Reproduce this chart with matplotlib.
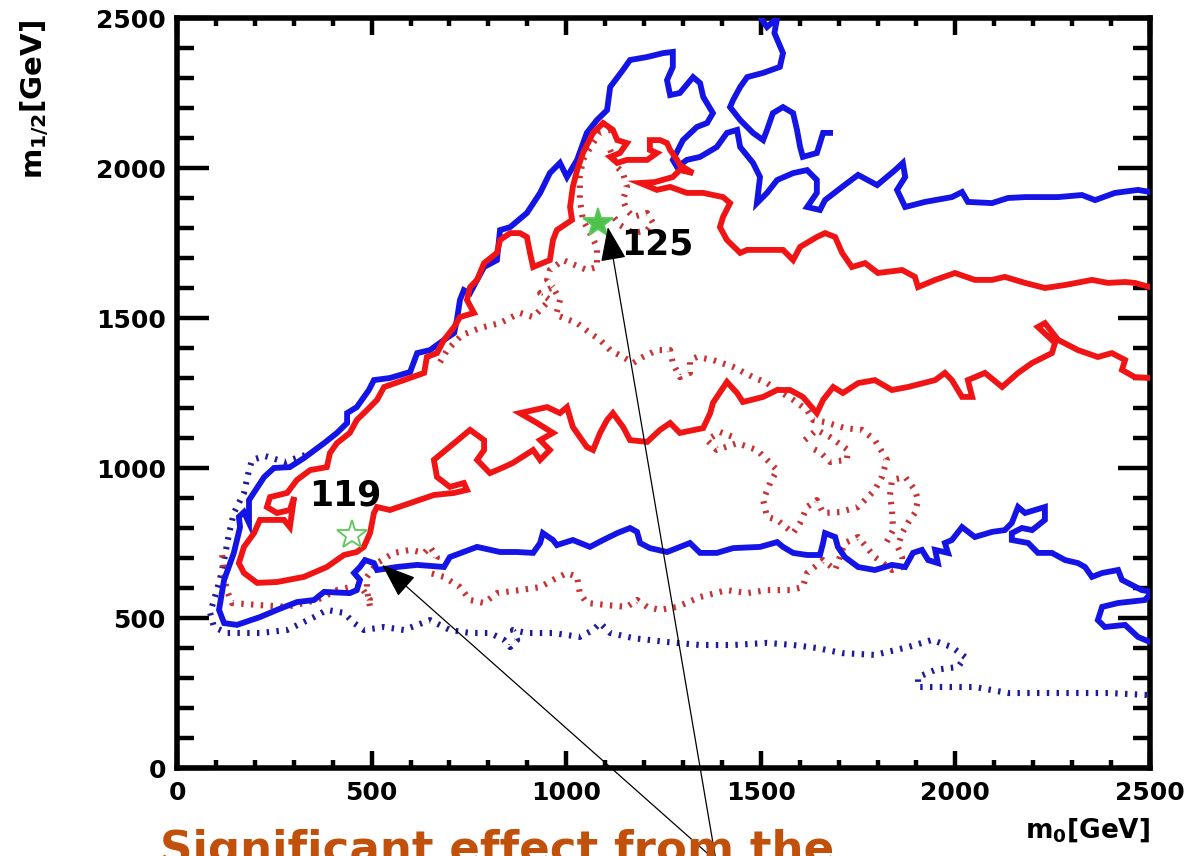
import matplotlib
matplotlib.use('Agg')
import matplotlib.pyplot as plt

# contour lines in the (m0, m1/2) plane, GeV
blue_solid = [
    (2500, 1920), (2469, 1927), (2410, 1917), (2359, 1893), (2325, 1910), (2264, 1903), (2179, 1903),
    (2135, 1900), (2094, 1883), (2032, 1887), (2017, 1920), (1991, 1903), (1922, 1887), (1871, 1870),
    (1850, 1927), (1871, 1970), (1865, 2017), (1845, 1993), (1799, 1943), (1750, 1977), (1709, 1937),
    (1665, 1893), (1652, 1860), (1619, 1870), (1644, 1917), (1644, 1960), (1619, 1993), (1583, 1983),
    (1542, 1960), (1516, 1917), (1490, 1883), (1498, 1970), (1480, 2017), (1447, 2070), (1439, 2127),
    (1413, 2117), (1387, 2070), (1344, 2037), (1310, 2027), (1285, 2003), (1274, 2027), (1300, 2093),
    (1336, 2137), (1362, 2150), (1377, 2183), (1352, 2237), (1344, 2283), (1326, 2303), (1292, 2250),
    (1267, 2243), (1259, 2293), (1274, 2337), (1274, 2387), (1249, 2383), (1208, 2370), (1164, 2360),
    (1146, 2327), (1113, 2270), (1105, 2193), (1079, 2160), (1053, 2117), (1028, 2027), (1002, 1970),
    (984, 2017), (958, 1983), (933, 1917), (899, 1850), (856, 1803), (830, 1793), (822, 1693),
    (789, 1670), (771, 1627), (753, 1583), (737, 1593), (727, 1560), (719, 1493), (712, 1450),
    (686, 1427), (650, 1393), (617, 1383), (599, 1320), (547, 1300), (506, 1293), (493, 1260),
    (462, 1203), (437, 1183), (437, 1150), (411, 1117), (378, 1083), (326, 1033), (290, 1003),
    (249, 1000), (224, 970), (185, 893), (185, 817), (172, 853), (159, 837), (162, 803), (146, 717),
    (121, 627), (108, 527), (121, 483), (154, 477), (213, 503), (257, 527), (308, 553), (352, 560),
    (378, 587), (444, 583), (462, 593), (470, 627), (455, 650), (470, 670), (483, 693), (506, 683),
    (514, 660), (565, 670), (617, 677), (686, 670), (701, 703), (771, 737), (830, 720), (874, 720),
    (915, 717), (933, 750), (940, 783), (966, 760), (976, 743), (1017, 760), (1061, 737), (1095, 760),
    (1131, 783), (1164, 800), (1182, 787), (1190, 750), (1215, 733), (1259, 720), (1292, 737),
    (1318, 750), (1344, 717), (1387, 717), (1429, 733), (1498, 737), (1542, 753), (1557, 737),
    (1583, 717), (1619, 710), (1652, 710), (1660, 750), (1665, 783), (1691, 770), (1698, 737),
    (1716, 703), (1750, 670), (1793, 660), (1837, 677), (1871, 670), (1891, 717), (1914, 727),
    (1930, 693), (1955, 683), (1948, 727), (1981, 717), (1973, 750), (1991, 760), (2017, 803),
    (2050, 770), (2094, 787), (2127, 793), (2145, 817), (2161, 870), (2179, 850), (2205, 860),
    (2230, 870), (2230, 827), (2197, 793), (2171, 800), (2145, 783), (2145, 760), (2187, 750),
    (2212, 717), (2248, 717), (2282, 693), (2315, 683), (2333, 670), (2351, 637), (2377, 650),
    (2418, 660), (2428, 627), (2479, 593), (2505, 587), (2487, 560), (2418, 550), (2377, 537),
    (2366, 493), (2384, 470), (2436, 477), (2469, 437), (2500, 420),
]
blue_top = [
    (1490, 2520), (1516, 2470), (1542, 2500), (1535, 2450), (1557, 2383), (1549, 2337), (1506, 2317),
    (1465, 2303), (1447, 2270), (1429, 2227), (1421, 2203), (1447, 2160), (1480, 2117), (1506, 2093),
    (1516, 2127), (1531, 2183), (1557, 2203), (1583, 2183), (1593, 2127), (1601, 2070), (1608, 2037),
    (1644, 2050), (1652, 2083), (1660, 2117), (1678, 2117),
]
blue_dotted = [
    (329, 1043), (277, 1020), (226, 1040), (193, 1027), (185, 993), (172, 917), (146, 850), (134, 783),
    (121, 693), (110, 627), (95, 560), (85, 517), (95, 470), (128, 450), (213, 450), (283, 460),
    (352, 503), (385, 527), (429, 517), (455, 483), (480, 460), (532, 470), (583, 460), (650, 493),
    (701, 460), (753, 450), (804, 450), (840, 427), (856, 403), (874, 427), (863, 460), (899, 450),
    (966, 450), (1035, 437), (1069, 460), (1087, 483), (1113, 450), (1172, 433), (1259, 420),
    (1344, 410), (1429, 410), (1516, 417), (1583, 410), (1644, 400), (1709, 383), (1793, 377),
    (1878, 403), (1940, 427), (1991, 403), (2025, 370), (2007, 337), (1948, 327), (1904, 303),
    (1904, 270), (1966, 270), (2050, 270), (2135, 250), (2264, 250), (2392, 250), (2500, 243),
]
red_solid = [
    (2500, 1603), (2461, 1617), (2436, 1620), (2392, 1617), (2351, 1627), (2282, 1610), (2230, 1600),
    (2179, 1617), (2127, 1637), (2094, 1627), (2050, 1627), (1999, 1650), (1948, 1627), (1904, 1603),
    (1896, 1637), (1863, 1660), (1801, 1650), (1768, 1683), (1734, 1670), (1709, 1717), (1691, 1770),
    (1665, 1783), (1644, 1770), (1601, 1737), (1583, 1693), (1557, 1727), (1516, 1727), (1465, 1727),
    (1447, 1717), (1413, 1760), (1395, 1803), (1403, 1837), (1421, 1883), (1403, 1903), (1352, 1917),
    (1310, 1917), (1267, 1937), (1233, 1927), (1190, 1950), (1228, 1953), (1274, 1970), (1292, 1993),
    (1326, 1983), (1292, 2010), (1285, 2027), (1267, 2060), (1259, 2083), (1241, 2093), (1215, 2093),
    (1215, 2060), (1233, 2050), (1208, 2027), (1156, 2027), (1131, 2017), (1113, 2037), (1138, 2050),
    (1156, 2083), (1131, 2093), (1120, 2127), (1095, 2150), (1069, 2117), (1043, 2050), (1028, 1993),
    (1017, 1937), (1010, 1870), (1015, 1827), (976, 1793), (966, 1760), (958, 1693), (915, 1670),
    (907, 1717), (899, 1770), (881, 1783), (856, 1783), (830, 1760), (822, 1717), (789, 1683),
    (771, 1627), (753, 1603), (745, 1560), (763, 1517), (727, 1503), (712, 1470), (686, 1427),
    (668, 1383), (642, 1370), (635, 1317), (583, 1293), (532, 1270), (514, 1227), (488, 1193),
    (462, 1160), (444, 1117), (411, 1083), (393, 1050), (385, 1003), (342, 993), (308, 960),
    (283, 917), (239, 903), (231, 870), (257, 850), (290, 860), (301, 903), (290, 803), (275, 827),
    (213, 827), (198, 783), (172, 737), (159, 683), (172, 650), (206, 617), (257, 620), (326, 637),
    (385, 670), (429, 710), (462, 720), (480, 737), (496, 783), (506, 850), (514, 870), (547, 860),
    (599, 883), (660, 910), (712, 917), (745, 927), (737, 950), (701, 937), (668, 970), (660, 1027),
    (712, 1083), (753, 1127), (789, 1093), (789, 1060), (771, 1027), (804, 983), (840, 1003),
    (863, 1017), (915, 1060), (933, 1027), (958, 1060), (933, 1093), (966, 1117), (925, 1150),
    (881, 1183), (951, 1203), (984, 1183), (1002, 1203), (1017, 1137), (1053, 1070), (1069, 1060),
    (1087, 1117), (1105, 1160), (1120, 1183), (1146, 1137), (1164, 1093), (1208, 1087), (1241, 1127),
    (1267, 1150), (1292, 1117), (1352, 1133), (1370, 1183), (1377, 1217), (1413, 1287), (1439, 1250),
    (1454, 1220), (1506, 1237), (1542, 1260), (1575, 1260), (1608, 1237), (1644, 1183), (1660, 1227),
    (1686, 1270), (1711, 1250), (1750, 1283), (1793, 1293), (1837, 1260), (1878, 1270), (1948, 1293),
    (1973, 1317), (1991, 1293), (2017, 1237), (2043, 1237), (2032, 1293), (2076, 1317), (2120, 1270),
    (2161, 1317), (2197, 1350), (2248, 1383), (2256, 1417), (2212, 1470), (2230, 1483), (2264, 1427),
    (2315, 1393), (2366, 1370), (2402, 1383), (2436, 1360), (2428, 1327), (2461, 1303), (2505, 1300),
]
red_dotted_low = [
    (116, 710), (121, 650), (128, 593), (141, 550), (213, 543), (283, 537), (360, 560), (411, 593),
    (444, 603), (475, 600), (496, 560), (496, 537), (488, 593), (488, 637), (514, 683), (557, 717),
    (599, 727), (635, 717), (650, 737), (668, 703), (650, 650), (686, 637), (727, 603), (753, 560),
    (789, 550), (822, 583), (881, 593), (933, 603), (966, 627), (1002, 650), (1028, 637), (1035, 583),
    (1053, 550), (1105, 543), (1156, 537), (1182, 560), (1208, 537), (1241, 527), (1285, 537),
    (1344, 570), (1413, 593), (1465, 583), (1516, 593), (1575, 593), (1608, 603), (1619, 650),
    (1660, 693), (1691, 660), (1716, 750), (1750, 770), (1793, 703), (1837, 660), (1863, 670),
    (1863, 703), (1852, 737), (1863, 783), (1878, 817), (1896, 850), (1904, 893), (1896, 927),
    (1871, 970), (1837, 960), (1832, 910), (1837, 860), (1840, 793), (1819, 743),
]
red_dotted_mid = [
    (676, 1353), (694, 1393), (732, 1443), (779, 1467), (830, 1483), (881, 1517), (915, 1503),
    (933, 1527), (958, 1560), (933, 1583), (966, 1603), (984, 1560), (974, 1510), (1028, 1483),
    (1061, 1450), (1087, 1427), (1113, 1393), (1146, 1370), (1172, 1350), (1197, 1370), (1233, 1393),
    (1267, 1393), (1274, 1350), (1292, 1303), (1318, 1317), (1318, 1360), (1336, 1370), (1377, 1360),
    (1429, 1337), (1480, 1303), (1516, 1283), (1542, 1260), (1583, 1227), (1619, 1193), (1634, 1160),
    (1665, 1153), (1716, 1133), (1760, 1127), (1793, 1093), (1824, 1027), (1811, 970), (1793, 927),
    (1750, 870), (1703, 853), (1660, 850), (1644, 893), (1619, 870), (1601, 817), (1583, 783),
    (1542, 827), (1516, 837), (1506, 893), (1524, 950), (1542, 993), (1516, 1027), (1490, 1060),
    (1439, 1083), (1387, 1060), (1362, 1093), (1395, 1120), (1429, 1103),
]
red_dotted_inner = [
    (1613, 1093), (1644, 1127), (1678, 1103), (1724, 1060), (1721, 1027), (1678, 1020), (1652, 1053),
    (1625, 1070),
]
red_dotted_star = [
    (1113, 2127), (1087, 2117), (1069, 2083), (1043, 2027), (1035, 1970), (1035, 1893), (1043, 1827),
    (1061, 1783), (1079, 1737), (1079, 1670), (1053, 1660), (992, 1693), (958, 1660), (951, 1627),
    (966, 1603),
]
red_dotted_star2 = [
    (1113, 2060), (1131, 2003), (1146, 1983), (1156, 1937), (1146, 1893), (1156, 1860), (1172, 1837),
    (1208, 1850), (1223, 1817), (1208, 1793), (1172, 1783), (1138, 1810), (1118, 1843),
]

# benchmark points: label, (m0, m1/2), label position, filled marker
points = [('119', (450, 777), (432, 910), False),
          ('125', (1082, 1817), (1235, 1745), True)]
arrow_tail = (1385, -310)
arrow_tips = [(527, 677), (1107, 1803)]

BLUE = '#1414e6'
RED = '#f01414'
BLUE_DOT = '#1c1c9c'
RED_DOT = '#c83232'

fig = plt.figure(figsize=(11.94, 8.56), dpi=100)
ax = fig.add_axes([177 / 1194, 1 - 768 / 856, 973 / 1194, 750 / 856])


def draw(pts, color, dotted=False, z=2):
    xs = [p[0] for p in pts]
    ys = [p[1] for p in pts]
    if dotted:
        ax.plot(xs, ys, color=color, lw=4.4, linestyle=(0, (0.4, 1.2)),
                dash_capstyle='butt', zorder=z)
    else:
        ax.plot(xs, ys, color=color, lw=4.2, solid_joinstyle='miter', zorder=z)


draw(blue_dotted, BLUE_DOT, dotted=True, z=2)
for seg in (red_dotted_low, red_dotted_mid, red_dotted_inner, red_dotted_star, red_dotted_star2):
    draw(seg, RED_DOT, dotted=True, z=3)
draw(blue_solid, BLUE, z=4)
draw(blue_top, BLUE, z=4)
draw(red_solid, RED, z=5)

for label, (mx, my), (tx, ty), filled in points:
    ax.plot(mx, my, marker='*', ms=22, mec='#5ac85a', mew=1.3,
            mfc='#4cc24c' if filled else 'none', zorder=6)
    ax.text(tx, ty, label, fontsize=25, fontweight='bold', ha='center', va='center', zorder=7)

for tip in arrow_tips:
    ax.annotate('', xy=tip, xytext=arrow_tail, annotation_clip=False,
                arrowprops=dict(arrowstyle='-|>,head_length=0.8,head_width=0.3',
                                mutation_scale=27, lw=0.9, color='black',
                                shrinkA=0, shrinkB=0), zorder=8)

ax.set_xlim(0, 2500)
ax.set_ylim(0, 2500)
ax.set_xticks(range(0, 2501, 500))
ax.set_yticks(range(0, 2501, 500))
ax.set_xticks(range(0, 2501, 100), minor=True)
ax.set_yticks(range(0, 2501, 100), minor=True)
for s in ax.spines.values():
    s.set_linewidth(4)
ax.tick_params(axis='x', which='major', direction='in', length=12, width=3.2,
               top=True, labelsize=18, pad=9)
ax.tick_params(axis='x', which='minor', direction='in', length=6, width=3.2, top=True)
ax.tick_params(axis='y', which='major', direction='in', length=23, width=3.2,
               right=True, labelsize=18, pad=8)
ax.tick_params(axis='y', which='minor', direction='in', length=12, width=3.2, right=True)
for lab in ax.get_xticklabels() + ax.get_yticklabels():
    lab.set_fontweight('bold')

ax.text(1.0, -0.083, r'm$_\mathbf{0}$[GeV]', transform=ax.transAxes, ha='right',
        va='center', fontsize=19, fontweight='bold')
ax.text(-0.146, 0.997, r'm$_\mathbf{1/2}$[GeV]', transform=ax.transAxes, ha='center',
        va='top', rotation=90, fontsize=21, fontweight='bold')

# caption running off the bottom edge
fig.text(160 / 1194, -0.008, 'Significant effect from the', color='#c0500a',
         fontsize=32.5, fontweight='bold', va='baseline')

fig.savefig('out.png', dpi=100)
